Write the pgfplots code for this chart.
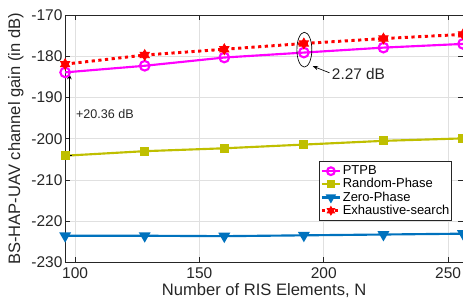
\documentclass[border=0pt]{standalone}
\usepackage{pgfplots}
\pgfplotsset{compat=1.18}
\usepackage{fontspec}
\setmainfont{Liberation Sans}
\usetikzlibrary{arrows.meta}
\definecolor{mMag}{rgb}{1,0,1}
\definecolor{mBlue}{rgb}{0,0.447,0.741}
\definecolor{mOlive}{rgb}{0.75,0.75,0}
\definecolor{gridgray}{rgb}{0.88,0.88,0.88}
\definecolor{axgray}{rgb}{0.15,0.15,0.15}
\pgfdeclareplotmark{hexagram}{%
  \pgfpathmoveto{\pgfqpointpolar{90}{\pgfplotmarksize}}%
  \pgfpathlineto{\pgfqpointpolar{210}{\pgfplotmarksize}}%
  \pgfpathlineto{\pgfqpointpolar{330}{\pgfplotmarksize}}%
  \pgfpathclose
  \pgfpathmoveto{\pgfqpointpolar{270}{\pgfplotmarksize}}%
  \pgfpathlineto{\pgfqpointpolar{30}{\pgfplotmarksize}}%
  \pgfpathlineto{\pgfqpointpolar{150}{\pgfplotmarksize}}%
  \pgfpathclose
  \pgfusepathqfillstroke}
\begin{document}
\begin{tikzpicture}[trim axis right]
\begin{axis}[
  name=main,
  scale only axis,
  width=297.75pt, height=185.25pt,
  xmin=96, xmax=256, ymin=-230, ymax=-170,
  xtick={100,150,200,250},
  ytick={-230,-220,-210,-200,-190,-180,-170},
  grid=major,
  major grid style={gridgray, line width=0.6pt},
  axis line style={axgray, line width=0.7pt},
  tick style={axgray, line width=0.6pt},
  major tick length=3.8pt,
  tick align=inside,
  tick label style={font=\fontsize{11.6}{12}\selectfont, text=axgray},
  yticklabel style={xshift=1.5pt},
  /pgf/number format/assume math mode=true,
  label style={font=\fontsize{12.4}{13}\selectfont, text=axgray},
  xlabel={Number of RIS Elements, N},
  ylabel={BS-HAP-UAV channel gain (in dB)},
  xlabel style={yshift=3pt},
  ylabel style={yshift=-1pt},
  legend style={at={(0.972,0.409)}, anchor=north east, font=\fontsize{9.7}{10}\selectfont,
    draw=axgray, line width=0.6pt, inner xsep=0.5pt, inner ysep=1pt, row sep=-2.6pt,
    nodes={inner xsep=1pt}},
  legend cell align=left,
  legend image post style={scale=0.8},
]
\addplot[color=mMag, line width=1.6pt, mark=o, mark size=3.6pt, mark options={solid, line width=1.6pt}]
  coordinates {(96,-183.9) (128,-182.3) (160,-180.3) (192,-179.1) (224,-177.9) (256,-177.0)};
\addlegendentry{PTPB}
\addplot[color=mOlive, line width=1.6pt, mark=square*, mark size=2.6pt, mark options={solid}]
  coordinates {(96,-204.1) (128,-203.0) (160,-202.3) (192,-201.4) (224,-200.5) (256,-199.9)};
\addlegendentry{Random-Phase}
\addplot[color=mBlue, line width=1.6pt, mark=triangle*, mark size=3.6pt, mark options={solid, rotate=180}]
  coordinates {(96,-223.5) (128,-223.5) (160,-223.6) (192,-223.4) (224,-223.2) (256,-223.0)};
\addlegendentry{Zero-Phase}
\addplot[color=red, line width=2.2pt, dash pattern=on 2.4pt off 2.6pt, mark=hexagram, mark size=4pt, mark options={solid, line width=0.6pt, fill=red}]
  coordinates {(96,-181.9) (128,-179.7) (160,-178.3) (192,-176.9) (224,-175.7) (256,-174.7)};
\addlegendentry{Exhaustive-search}
\draw[black, line width=0.6pt, -{Stealth[length=4pt,width=3.5pt]}] (axis cs:97.7,-204.0) -- (axis cs:97.7,-184.3);
\draw[black, line width=0.6pt] (axis cs:96.6,-204.0) -- (axis cs:98.8,-204.0);
\node[anchor=west, font=\fontsize{9.4}{10}\selectfont, text=axgray, inner sep=0pt] at (axis cs:100.3,-194.0) {+20.36 dB};
\draw[black, line width=0.5pt] (axis cs:192.2,-178.4) ellipse [x radius=5.6pt, y radius=13pt];
\draw[black, line width=0.5pt, -{Stealth[length=4pt,width=3pt]}] (axis cs:202.3,-184.0) -- (axis cs:195.6,-182.4);
\node[anchor=west, font=\fontsize{11.5}{12}\selectfont, text=axgray, inner sep=0pt] at (axis cs:203.2,-184.3) {2.27 dB};
\end{axis}
\path (main.north west) ++(-48.75pt,11.25pt);
\path (main.south west) ++(-48.75pt,-32.25pt);
\end{tikzpicture}
\end{document}
